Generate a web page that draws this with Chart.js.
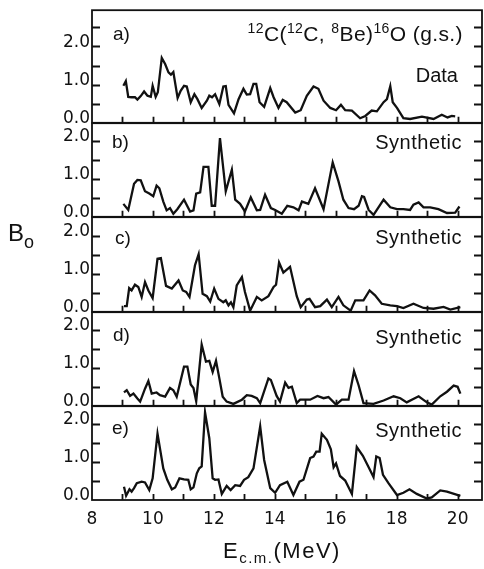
<!DOCTYPE html>
<html>
<head>
<meta charset="utf-8">
<script src="https://cdn.jsdelivr.net/npm/chart.js@4.4.1/dist/chart.umd.min.js"></script>
<style>
  body { margin: 0; background: #fff; }
  #fig { position: relative; width: 484px; height: 569px; overflow: hidden; background: #fff;
         font-family: "Liberation Sans", Arial, sans-serif; color: #111; }
  #fig canvas { position: absolute; left: 0; }
  .lbl { position: absolute; line-height: 1; white-space: nowrap; z-index: 5; }
  .up { font-size: 14px; position: relative; top: -8px; }
  .dn { position: relative; }
</style>
</head>
<body>
<div id="fig">
  <div class="lbl" style="left:113px; top:23.5px; font-size:19px;">a)</div>
  <div class="lbl" style="right:21px; top:22.5px; font-size:21px; letter-spacing:0.4px;"><span class="up">12</span>C(<span class="up">12</span>C, <span class="up">8</span>Be)<span class="up">16</span>O (g.s.)</div>
  <div class="lbl" style="right:26px; top:65px; font-size:20px;">Data</div>

  <div class="lbl" style="left:112px; top:131.5px; font-size:19px;">b)</div>
  <div class="lbl" style="right:22px; top:132px; font-size:20px; letter-spacing:0.5px;">Synthetic</div>

  <div class="lbl" style="left:115px; top:227.5px; font-size:19px;">c)</div>
  <div class="lbl" style="right:22px; top:227px; font-size:20px; letter-spacing:0.5px;">Synthetic</div>

  <div class="lbl" style="left:113px; top:324.5px; font-size:19px;">d)</div>
  <div class="lbl" style="right:22px; top:327px; font-size:20px; letter-spacing:0.5px;">Synthetic</div>

  <div class="lbl" style="left:112px; top:417.5px; font-size:19px;">e)</div>
  <div class="lbl" style="right:22px; top:420px; font-size:20px; letter-spacing:0.5px;">Synthetic</div>

  <div class="lbl" style="left:8px; top:220.5px; font-size:24px;">B<span class="dn" style="font-size:18px; top:7px;">o</span></div>
  <div class="lbl" style="left:223px; top:540px; font-size:22px; letter-spacing:1.5px;">E<span class="dn" style="font-size:15px; top:5px;">c.m.</span>(MeV)</div>
</div>
<script>
// panel a) measured data
var energyA = [9.03, 9.11, 9.19, 9.30, 9.41, 9.49, 9.60, 9.71, 9.82, 9.93, 9.99, 10.09, 10.16, 10.29, 10.40, 10.51, 10.59, 10.67, 10.81, 10.91, 11.02, 11.11, 11.24, 11.36, 11.46, 11.60, 11.77, 11.85, 11.94, 12.04, 12.18, 12.31, 12.39, 12.48, 12.66, 12.81, 12.97, 13.08, 13.19, 13.30, 13.39, 13.50, 13.65, 13.85, 13.96, 14.12, 14.26, 14.39, 14.67, 14.85, 15.05, 15.27, 15.43, 15.60, 15.82, 16.01, 16.17, 16.31, 16.53, 16.80, 16.97, 17.18, 17.35, 17.57, 17.68, 17.79, 17.87, 18.01, 18.22, 18.44, 18.83, 19.21, 19.48, 19.67, 19.81, 19.92];
var valueA = [0.97, 1.09, 0.68, 0.67, 0.67, 0.61, 0.70, 0.82, 0.71, 0.68, 0.97, 0.68, 0.80, 1.70, 1.54, 1.32, 1.26, 1.33, 0.65, 0.84, 0.97, 0.95, 0.54, 0.75, 0.62, 0.39, 0.58, 0.71, 0.67, 0.75, 0.49, 0.95, 0.96, 0.47, 0.25, 0.62, 0.89, 0.74, 0.75, 1.02, 1.02, 0.54, 0.42, 0.91, 0.67, 0.39, 0.60, 0.54, 0.27, 0.33, 0.71, 0.95, 0.89, 0.58, 0.39, 0.33, 0.47, 0.33, 0.32, 0.12, 0.18, 0.32, 0.30, 0.54, 0.62, 0.96, 0.54, 0.39, 0.12, 0.10, 0.16, 0.10, 0.21, 0.14, 0.18, 0.17];

// panels b) - e) synthetic
var energyB = [9.03, 9.19, 9.38, 9.49, 9.60, 9.74, 9.88, 10.01, 10.12, 10.21, 10.34, 10.45, 10.56, 10.67, 10.80, 11.02, 11.22, 11.33, 11.42, 11.55, 11.66, 11.82, 11.93, 12.04, 12.20, 12.39, 12.59, 12.70, 12.86, 13.02, 13.21, 13.41, 13.52, 13.68, 13.87, 14.01, 14.23, 14.41, 14.61, 14.78, 14.89, 15.10, 15.32, 15.60, 15.90, 16.09, 16.25, 16.42, 16.60, 16.75, 16.86, 16.93, 17.08, 17.24, 17.57, 17.79, 18.01, 18.22, 18.44, 18.55, 18.72, 18.88, 19.10, 19.37, 19.65, 19.92, 20.06];
var valueB = [0.34, 0.18, 0.87, 0.97, 0.96, 0.67, 0.61, 0.54, 0.82, 0.75, 0.40, 0.17, 0.23, 0.08, 0.20, 0.45, 0.14, 0.17, 0.61, 0.64, 1.31, 1.31, 0.29, 0.29, 2.07, 0.67, 1.24, 0.45, 0.34, 0.14, 0.51, 0.17, 0.18, 0.58, 0.23, 0.18, 0.08, 0.29, 0.25, 0.17, 0.40, 0.34, 0.75, 0.20, 1.43, 0.93, 0.45, 0.23, 0.20, 0.29, 0.54, 0.52, 0.18, 0.05, 0.45, 0.25, 0.20, 0.20, 0.18, 0.32, 0.38, 0.25, 0.25, 0.20, 0.10, 0.11, 0.27];

var energyC = [9.05, 9.14, 9.22, 9.30, 9.41, 9.52, 9.63, 9.74, 9.85, 9.99, 10.15, 10.26, 10.43, 10.62, 10.84, 10.98, 11.09, 11.20, 11.38, 11.50, 11.63, 11.77, 11.88, 12.01, 12.15, 12.31, 12.39, 12.48, 12.56, 12.64, 12.75, 12.92, 13.02, 13.19, 13.41, 13.57, 13.79, 13.96, 14.04, 14.14, 14.28, 14.50, 14.72, 14.85, 15.05, 15.14, 15.32, 15.49, 15.71, 15.87, 16.09, 16.25, 16.49, 16.64, 16.91, 17.11, 17.29, 17.51, 17.79, 18.01, 18.22, 18.55, 18.88, 19.21, 19.54, 19.76, 20.09];
var valueC = [0.15, 0.15, 0.62, 0.56, 0.71, 0.65, 0.39, 0.78, 0.56, 0.36, 1.39, 1.41, 0.68, 0.61, 0.82, 0.56, 0.52, 0.39, 1.22, 1.51, 0.47, 0.41, 0.27, 0.61, 0.34, 0.25, 0.30, 0.17, 0.25, 0.12, 0.69, 0.91, 0.52, 0.03, 0.39, 0.30, 0.41, 0.65, 0.71, 1.29, 1.03, 1.18, 0.41, 0.12, 0.32, 0.34, 0.12, 0.15, 0.32, 0.12, 0.39, 0.17, 0.03, 0.30, 0.30, 0.56, 0.43, 0.21, 0.17, 0.15, 0.10, 0.21, 0.10, 0.08, 0.13, 0.06, 0.12];

var energyD = [9.05, 9.14, 9.25, 9.36, 9.49, 9.58, 9.74, 9.85, 9.96, 10.12, 10.23, 10.40, 10.56, 10.67, 10.78, 11.02, 11.13, 11.24, 11.33, 11.42, 11.60, 11.74, 11.85, 11.96, 12.07, 12.18, 12.29, 12.42, 12.64, 12.92, 13.08, 13.24, 13.41, 13.52, 13.79, 13.87, 14.06, 14.17, 14.34, 14.45, 14.56, 14.72, 14.83, 15.16, 15.40, 15.60, 15.76, 16.01, 16.20, 16.42, 16.60, 16.75, 16.91, 17.24, 17.57, 17.90, 18.12, 18.33, 18.72, 18.99, 19.15, 19.43, 19.65, 19.87, 20.00, 20.09];
var valueD = [0.35, 0.41, 0.26, 0.32, 0.19, 0.11, 0.45, 0.65, 0.32, 0.35, 0.28, 0.24, 0.47, 0.41, 0.24, 1.03, 1.03, 0.56, 0.47, 0.12, 1.61, 1.16, 1.18, 0.89, 1.18, 0.72, 0.24, 0.11, 0.05, 0.16, 0.28, 0.26, 0.20, 0.07, 0.72, 0.68, 0.26, 0.11, 0.61, 0.47, 0.50, 0.07, 0.16, 0.16, 0.26, 0.20, 0.23, 0.03, 0.16, 0.16, 0.91, 0.54, 0.07, 0.05, 0.14, 0.25, 0.20, 0.09, 0.25, 0.09, 0.03, 0.25, 0.37, 0.53, 0.50, 0.32];

var energyE = [9.05, 9.12, 9.23, 9.30, 9.38, 9.47, 9.63, 9.74, 9.88, 9.99, 10.15, 10.34, 10.47, 10.62, 10.73, 10.87, 11.02, 11.16, 11.24, 11.33, 11.44, 11.52, 11.60, 11.71, 11.85, 11.96, 12.04, 12.15, 12.26, 12.42, 12.55, 12.70, 12.86, 12.99, 13.13, 13.30, 13.52, 13.65, 13.85, 14.01, 14.17, 14.41, 14.61, 14.81, 14.94, 15.16, 15.27, 15.36, 15.47, 15.54, 15.71, 15.84, 15.93, 16.01, 16.14, 16.31, 16.53, 16.69, 16.89, 17.08, 17.24, 17.33, 17.44, 17.55, 17.73, 18.01, 18.22, 18.42, 18.66, 18.99, 19.15, 19.43, 19.65, 20.09];
var valueE = [0.35, 0.11, 0.28, 0.22, 0.31, 0.44, 0.48, 0.46, 0.26, 0.57, 1.74, 0.83, 0.53, 0.28, 0.33, 0.57, 0.54, 0.53, 0.28, 0.33, 0.70, 0.83, 0.88, 2.30, 1.62, 0.57, 0.53, 0.54, 0.16, 0.37, 0.26, 0.39, 0.37, 0.53, 0.60, 0.83, 1.93, 1.05, 0.31, 0.19, 0.39, 0.48, 0.13, 0.48, 0.53, 1.10, 1.14, 1.27, 1.27, 1.74, 1.58, 1.33, 0.86, 0.96, 0.63, 0.51, 0.16, 1.39, 1.16, 0.86, 0.60, 1.14, 1.10, 0.66, 0.44, 0.13, 0.19, 0.28, 0.16, 0.04, 0.07, 0.25, 0.22, 0.11];

var xTicks = [8, 10, 12, 14, 16, 18, 20];
var yTicks = [0, 1, 2];
var yMaxes = [2.95, 2.46, 2.48, 2.46, 2.46];

// page layout (px) of each panel box
var panelTops = [10, 123, 217, 312, 406];
var panelBottoms = [123, 217, 312, 406, 500];
var series = [[energyA, valueA], [energyB, valueB], [energyC, valueC], [energyD, valueD], [energyE, valueE]];

var ink = "#111";
var pad = 12;

// box around each panel with inward ticks
var framePlugin = {
    id: "frame",
    afterDatasetsDraw: function (chart) {
        var a = chart.chartArea, ctx = chart.ctx;
        var xs = chart.scales.x, ys = chart.scales.y;
        ctx.save();
        ctx.strokeStyle = ink;
        ctx.lineWidth = 1.8;
        ctx.strokeRect(a.left, a.top, a.right - a.left, a.bottom - a.top);
        ctx.beginPath();
        for (var v = 0.5; v < ys.max; v += 0.5) {
            var py = Math.round(ys.getPixelForValue(v)) + 0.5;
            ctx.moveTo(a.left, py); ctx.lineTo(a.left + 8, py);
            ctx.moveTo(a.right, py); ctx.lineTo(a.right - 8, py);
        }
        for (var e = 9; e <= 20; e++) {
            var px = Math.round(xs.getPixelForValue(e)) + 0.5;
            ctx.moveTo(px, a.bottom); ctx.lineTo(px, a.bottom - 6);
        }
        ctx.stroke();
        ctx.restore();
    }
};

var fig = document.getElementById("fig");

series.forEach(function (s, i) {
    var last = i === series.length - 1;
    var top = panelTops[i] - pad;
    var height = last ? 569 - top : panelBottoms[i] - panelTops[i] + 2 * pad;

    var canvas = document.createElement("canvas");
    canvas.width = 484;
    canvas.height = height;
    canvas.style.top = top + "px";
    fig.appendChild(canvas);

    new Chart(canvas, {
        type: "line",
        data: {
            datasets: [{
                data: s[0].map(function (e, k) { return { x: e, y: s[1][k] }; }),
                borderColor: ink,
                borderWidth: 2.3,
                pointRadius: 0,
                tension: 0,
                fill: false
            }]
        },
        options: {
            responsive: false,
            animation: false,
            devicePixelRatio: 1,
            layout: { padding: { top: pad, bottom: last ? 0 : pad, left: 0, right: 2 } },
            plugins: { legend: { display: false }, tooltip: { enabled: false } },
            scales: {
                x: {
                    type: "linear",
                    min: 8,
                    max: 20.8,
                    display: last,
                    grid: { display: false, drawTicks: false },
                    border: { display: false },
                    afterBuildTicks: function (axis) {
                        axis.ticks = xTicks.map(function (v) { return { value: v }; });
                    },
                    afterFit: function (axis) { axis.height = last ? 569 - panelBottoms[4] : 0; },
                    ticks: {
                        autoSkip: false,
                        maxRotation: 0,
                        padding: 9,
                        color: ink,
                        font: { family: "DejaVu Sans", size: 17 },
                        callback: function (v) { return String(v); }
                    }
                },
                y: {
                    type: "linear",
                    min: 0,
                    max: yMaxes[i],
                    grid: { display: false, drawTicks: false },
                    border: { display: false },
                    afterBuildTicks: function (axis) {
                        axis.ticks = yTicks.map(function (v) { return { value: v }; });
                    },
                    afterFit: function (axis) { axis.width = 92; },
                    ticks: {
                        autoSkip: false,
                        padding: 2,
                        labelOffset: -4,
                        color: ink,
                        font: { family: "DejaVu Sans", size: 17 },
                        callback: function (v) { return v.toFixed(1); }
                    }
                }
            }
        },
        plugins: [framePlugin]
    });
});
</script>
</body>
</html>
